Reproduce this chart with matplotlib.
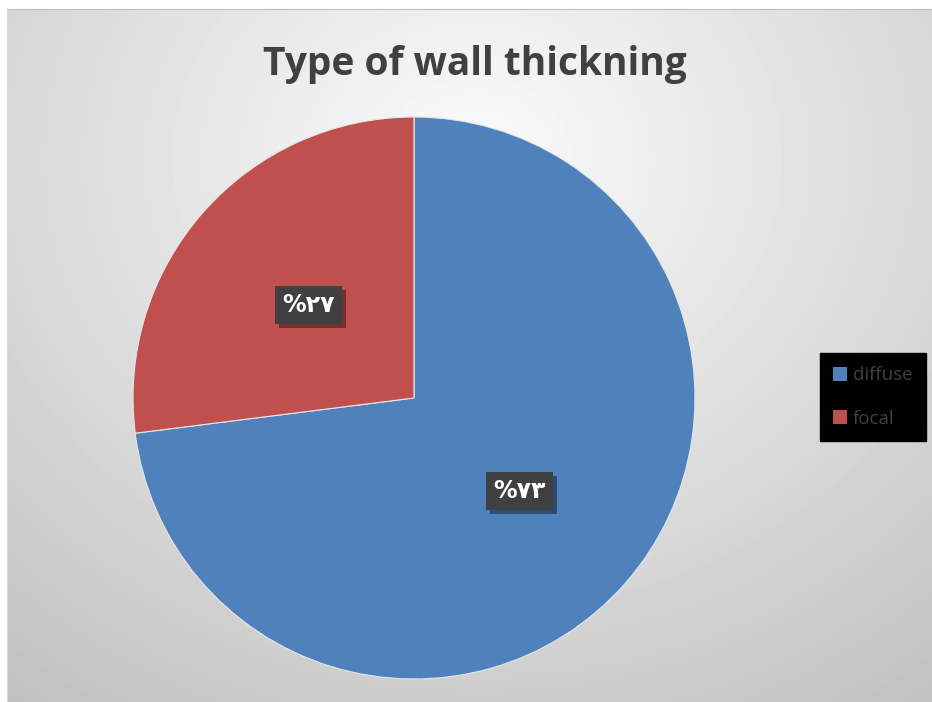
import numpy as np
import matplotlib
matplotlib.use("Agg")
import matplotlib.pyplot as plt
import matplotlib.patheffects as pe

# wall thickening type shares (percent)
labels = ["diffuse", "focal"]
values = [73, 27]
colors = ["#4f81bd", "#c0504d"]

title = "Type of wall thickning"
ARABIC_DIGITS = "٠١٢٣٤٥٦٧٨٩"


def to_arabic(pct):
    n = str(int(round(pct)))
    return "%" + "".join(ARABIC_DIGITS[int(c)] for c in n)


W, H = 932, 702
fig = plt.figure(figsize=(W / 100, H / 100), dpi=100)
fig.patch.set_facecolor("white")

# chart area with soft radial gradient
bg = fig.add_axes([7 / W, 0, 1 - 7 / W, (H - 9) / H])
yy, xx = np.mgrid[0:693, 0:925]
r = np.hypot((xx - 470) / 640, (yy - 150) / 560)
shade = 0.985 - 0.19 * r
bg.imshow(shade, cmap="gray", vmin=0, vmax=1, aspect="auto", extent=[0, 1, 0, 1], origin="upper")
bg.set_xlim(0, 1)
bg.set_ylim(0, 1)
bg.set_xticks([])
bg.set_yticks([])
for s in bg.spines.values():
    s.set_visible(False)
bg.spines["top"].set_visible(True)
bg.spines["top"].set_color("#bfbfbf")
bg.spines["left"].set_visible(True)
bg.spines["left"].set_color("#d9d9d9")

fig.text(475 / W, 1 - 65 / H, title, ha="center", va="center",
         fontsize=28, fontweight="bold", color="#404040", family="Open Sans")

# pie
ax = fig.add_axes([133 / W, (H - 679) / H, 562 / W, 562 / H])
ax.set_facecolor("none")
wedges, texts, autotexts = ax.pie(
    values, colors=colors, startangle=90, counterclock=False,
    autopct=to_arabic, pctdistance=0.5, radius=1,
    wedgeprops=dict(edgecolor="#e6e6e6", linewidth=0.8),
    textprops=dict(color="white", fontsize=17, fontweight="bold", family=["DejaVu Sans"]),
)
ax.set_xlim(-1, 1)
ax.set_ylim(-1, 1)
ax.set_aspect("equal")
ax.axis("off")

for t in autotexts:
    t.set_bbox(dict(boxstyle="square,pad=0.3", facecolor="#404040", edgecolor="none"))
    t.get_bbox_patch().set_path_effects([
        pe.SimplePatchShadow(offset=(3, -3), shadow_rgbFace="black", alpha=0.4),
        pe.Normal(),
    ])

leg = fig.legend(wedges, labels, loc="center", bbox_to_anchor=(873 / W, 1 - 397 / H),
                 frameon=True, fancybox=False, facecolor="black", edgecolor="black",
                 framealpha=1, handlelength=0.75, handleheight=0.75, handletextpad=0.3,
                 labelspacing=1.35, borderpad=0.7, borderaxespad=0,
                 prop=dict(family="Open Sans", size=13.5))
for t in leg.get_texts():
    t.set_color("#404040")
for h in leg.legend_handles:
    h.set_edgecolor("none")

fig.savefig("out.png", dpi=100)
